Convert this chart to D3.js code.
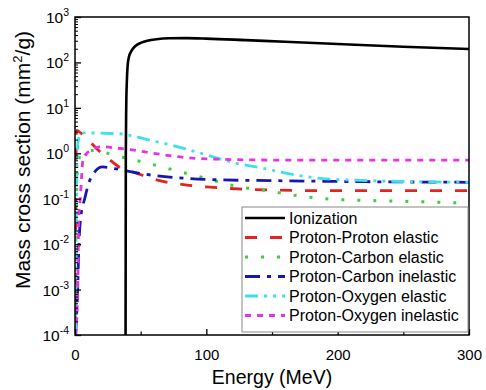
<!DOCTYPE html>
<html>
<head>
<meta charset="utf-8">
<script src="https://cdnjs.cloudflare.com/ajax/libs/d3/7.8.5/d3.min.js"></script>
<style>
  html, body { margin: 0; padding: 0; background: #fff; }
  svg { display: block; font-family: "Liberation Sans", Arial, sans-serif; }
</style>
</head>
<body>
<svg id="chart" width="486" height="390"></svg>
<script>
// ---- data ----
const ionizationE = [38.5, 38.7, 39, 39.5, 40, 41, 43, 46, 50, 55, 62, 72, 85, 100, 130, 160, 200, 250, 300];
const ionizationV = [1e-4, 1, 10, 40, 80, 130, 180, 230, 270, 300, 325, 340, 342, 335, 310, 285, 255, 222, 197];

const ppE = [0, 0.5, 1, 3, 10, 19, 25, 35, 45, 62, 85, 103, 133, 194, 300];
const ppV = [1e-4, 0.01, 3.2, 3.0, 1.95, 1.08, 0.78, 0.47, 0.38, 0.26, 0.2, 0.18, 0.16, 0.15, 0.15];

const pcElE = [0.3, 1, 2, 4, 8, 14, 25, 38, 61, 85, 98, 122, 146, 171, 194, 250, 300];
const pcElV = [1e-4, 0.05, 0.5, 0.9, 1.1, 1.15, 1.0, 0.8, 0.55, 0.36, 0.29, 0.19, 0.15, 0.115, 0.098, 0.088, 0.08];

const pcInE = [0.5, 2, 3, 4.6, 7.4, 10, 15, 21, 30, 45, 62, 85, 110, 150, 200, 300];
const pcInV = [1e-4, 0.001, 0.01, 0.044, 0.1, 0.2, 0.39, 0.5, 0.46, 0.38, 0.32, 0.28, 0.26, 0.25, 0.24, 0.23];

const poElE = [0.5, 1, 2.3, 5, 10, 33, 43, 55, 70, 82, 95, 123, 143, 156, 187, 225, 300];
const poElV = [1e-4, 0.05, 1.8, 2.8, 2.8, 2.7, 2.45, 2.0, 1.6, 1.3, 1.02, 0.6, 0.47, 0.39, 0.28, 0.25, 0.23];

const poInE = [0.5, 2, 3, 4, 5, 6, 9, 12, 20, 33, 45, 60, 85, 110, 150, 300];
const poInV = [1e-4, 0.001, 0.05, 0.1, 0.3, 0.7, 1.0, 1.17, 1.39, 1.29, 1.17, 1.0, 0.8, 0.74, 0.71, 0.71];

const seriesNames = ["Ionization", "Proton-Proton elastic", "Proton-Carbon elastic",
                     "Proton-Carbon inelastic", "Proton-Oxygen elastic", "Proton-Oxygen inelastic"];
const xTicks = [0, 100, 200, 300];
const xMinorTicks = [50, 150, 250];
const yExponents = [-4, -3, -2, -1, 0, 1, 2, 3];

// ---- layout ----
const svg = d3.select("#chart");
const L = 75, R = 469, T = 17, B = 335;
const x = d3.scaleLinear().domain([0, 300]).range([L, R]);
const y = d3.scaleLog().domain([1e-4, 1e3]).range([B, T]);

const styles = [
  { color: "#000000", dash: null, width: 2.6 },
  { color: "#e3231f", dash: "12 13", width: 2.8 },
  { color: "#3fcf3f", dash: "3 13", width: 3 },
  { color: "#1717b0", dash: "15 7 4 7", width: 2.8 },
  { color: "#3fe0e8", dash: "13 6 3 6 3 6", width: 2.8 },
  { color: "#e633e6", dash: "6 6", width: 2.8 }
];
const allSeries = [
  [ionizationE, ionizationV], [ppE, ppV], [pcElE, pcElV],
  [pcInE, pcInV], [poElE, poElV], [poInE, poInV]
];

svg.append("defs").append("clipPath").attr("id", "clip")
  .append("rect").attr("x", L).attr("y", T).attr("width", R - L).attr("height", B - T);

const line = d3.line().x(d => x(d[0])).y(d => y(d[1])).curve(d3.curveMonotoneX);
const plotG = svg.append("g").attr("clip-path", "url(#clip)");
// draw order: colored series first, ionization on top
[1, 2, 3, 4, 5, 0].forEach(i => {
  const [E, V] = allSeries[i];
  const pts = E.map((e, k) => [e, V[k]]);
  plotG.append("path").datum(pts)
    .attr("d", line)
    .attr("fill", "none")
    .attr("stroke", styles[i].color)
    .attr("stroke-width", styles[i].width)
    .attr("stroke-dasharray", styles[i].dash)
    .attr("stroke-linejoin", "round");
});

// ---- axes ----
const axG = svg.append("g");
const xAxis = d3.axisBottom(x).tickValues(xTicks).tickSize(-6).tickPadding(14).tickFormat(d3.format("d"));
const gx = axG.append("g").attr("transform", `translate(0,${B})`).call(xAxis);
gx.select(".domain").remove();
gx.selectAll("line").attr("stroke", "#000").attr("stroke-width", 1.3);
gx.selectAll("text").attr("font-size", 15).attr("fill", "#000")
  .attr("font-family", "Liberation Sans, Arial, sans-serif");
const gxm = axG.append("g").attr("transform", `translate(0,${B})`)
  .call(d3.axisBottom(x).tickValues(xMinorTicks).tickSize(-3.5).tickFormat(""));
gxm.select(".domain").remove();
gxm.selectAll("line").attr("stroke", "#000").attr("stroke-width", 1.2);

const minorVals = [];
for (let e = -4; e < 3; e++) for (let m = 2; m <= 9; m++) minorVals.push(m * Math.pow(10, e));
const gym = axG.append("g").attr("transform", `translate(${L},0)`)
  .call(d3.axisLeft(y).tickValues(minorVals).tickSize(-3).tickFormat(""));
gym.select(".domain").remove();
gym.selectAll("line").attr("stroke", "#000").attr("stroke-width", 1);
const gy = axG.append("g").attr("transform", `translate(${L},0)`)
  .call(d3.axisLeft(y).tickValues(yExponents.map(e => Math.pow(10, e))).tickSize(-6).tickFormat(""));
gy.select(".domain").remove();
gy.selectAll("line").attr("stroke", "#000").attr("stroke-width", 1.3);

const ylab = axG.append("g");
yExponents.forEach(e => {
  const t = ylab.append("text")
    .attr("x", 69).attr("y", y(Math.pow(10, e)) + 6)
    .attr("text-anchor", "end").attr("font-size", 15.5).attr("fill", "#000");
  t.append("tspan").text("10");
  t.append("tspan").attr("font-size", 10.5).attr("dy", -7).text(e < 0 ? "-" + (-e) : String(e));
});

axG.append("rect").attr("x", L).attr("y", T).attr("width", R - L).attr("height", B - T)
  .attr("fill", "none").attr("stroke", "#000").attr("stroke-width", 1.5);

svg.append("text").attr("x", (L + R) / 2).attr("y", 384)
  .attr("text-anchor", "middle").attr("font-size", 19.5).attr("fill", "#000")
  .text("Energy (MeV)");
const yt = svg.append("text").attr("transform", "translate(30,160) rotate(-90)")
  .attr("text-anchor", "middle").attr("font-size", 21).attr("fill", "#000");
yt.append("tspan").text("Mass cross section (mm");
yt.append("tspan").attr("font-size", 13).attr("dy", -8).text("2");
yt.append("tspan").attr("dy", 8).text("/g)");

// ---- legend ----
const lg = svg.append("g");
lg.append("rect").attr("x", 242).attr("y", 207).attr("width", 226).attr("height", 125)
  .attr("fill", "#fff").attr("stroke", "#888").attr("stroke-width", 1);
seriesNames.forEach((name, i) => {
  const cy = 218 + i * 19.5;
  lg.append("line").attr("x1", 245).attr("x2", 285).attr("y1", cy).attr("y2", cy)
    .attr("stroke", styles[i].color).attr("stroke-width", styles[i].width)
    .attr("stroke-dasharray", styles[i].dash);
  lg.append("text").attr("x", 289).attr("y", cy + 5.5).attr("font-size", 16).attr("fill", "#000").text(name);
});
</script>
</body>
</html>
